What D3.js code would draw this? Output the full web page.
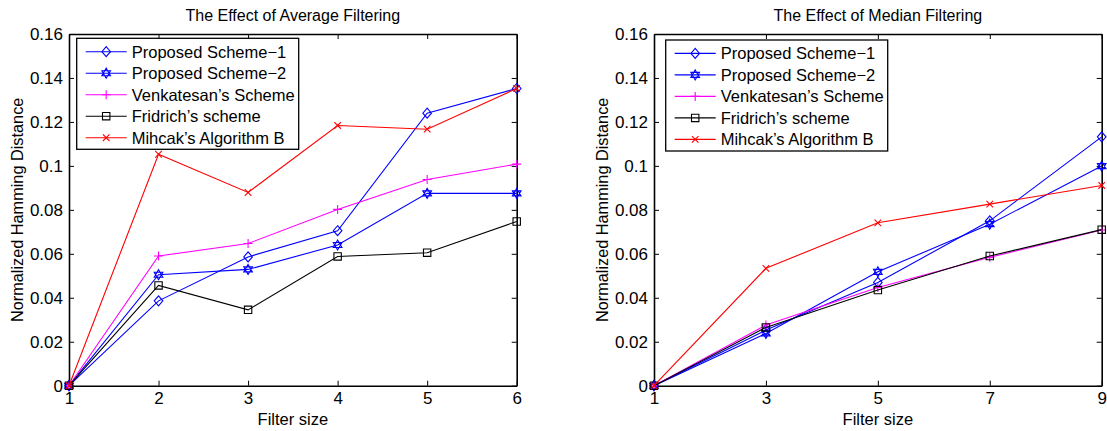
<!DOCTYPE html>
<html>
<head>
<meta charset="utf-8">
<script src="https://cdn.jsdelivr.net/npm/d3@7"></script>
<style>
  body { margin: 0; background: #fff; }
  text { font-family: "Liberation Sans", Arial, Helvetica, sans-serif; fill: #000; }
</style>
</head>
<body>
<div id="chart"></div>
<script>
// ---- data ----
var seriesNames = ["Proposed Scheme\u22121", "Proposed Scheme\u22122", "Venkatesan\u2019s Scheme", "Fridrich\u2019s scheme", "Mihcak\u2019s Algorithm B"];
var seriesColors = ["#0000ff", "#0000ff", "#ff00ff", "#000000", "#ff0000"];
var seriesMarkers = ["diamond", "hexagram", "plus", "square", "cross"];

var avgSizes = [1, 2, 3, 4, 5, 6];
var avgScheme1 = [0, 0.0386, 0.0586, 0.0705, 0.1240, 0.1352];
var avgScheme2 = [0, 0.0505, 0.0529, 0.0640, 0.0875, 0.0875];
var avgVenkatesan = [0, 0.0590, 0.0647, 0.0802, 0.0938, 0.1008];
var avgFridrich = [0, 0.0456, 0.0345, 0.0588, 0.0605, 0.0747];
var avgMihcak = [0, 0.1053, 0.0879, 0.1184, 0.1167, 0.1352];

var medSizes = [1, 3, 5, 7, 9];
var medScheme1 = [0, 0.0253, 0.0470, 0.0750, 0.1132];
var medScheme2 = [0, 0.0238, 0.0518, 0.0735, 0.0999];
var medVenkatesan = [0, 0.0276, 0.0447, 0.0584, 0.0708];
var medFridrich = [0, 0.0265, 0.0435, 0.0590, 0.0710];
var medMihcak = [0, 0.0534, 0.0741, 0.0826, 0.0911];

var yTicks = [0, 0.02, 0.04, 0.06, 0.08, 0.1, 0.12, 0.14, 0.16];
var avgTicks = [1, 2, 3, 4, 5, 6];
var medTicks = [1, 3, 5, 7, 9];

var panels = [
  { title: "The Effect of Average Filtering", x: avgSizes, ticks: avgTicks,
    series: [avgScheme1, avgScheme2, avgVenkatesan, avgFridrich, avgMihcak],
    left: 69, right: 516.7, legendDx: 7.7, legendDy: 4.3, ylabelX: 23 },
  { title: "The Effect of Median Filtering", x: medSizes, ticks: medTicks,
    series: [medScheme1, medScheme2, medVenkatesan, medFridrich, medMihcak],
    left: 654, right: 1101.7, legendDx: 11.7, legendDy: 6, ylabelX: 608 }
];

var W = 1107, H = 431;
var plotTop = 34, plotBottom = 385.7;

// marker paths, MATLAB style (unfilled)
function markerPath(kind) {
  switch (kind) {
    case "diamond": return "M0,-5L4.3,0L0,5L-4.3,0Z";
    case "square": return "M-3.7,-3.7H3.7V3.7H-3.7Z";
    case "plus": return "M-4.5,0H4.5M0,-4.5V4.5";
    case "cross": return "M-3.3,-3.3L3.3,3.3M-3.3,3.3L3.3,-3.3";
    case "hexagram":
      var r = 5, p1 = [], p2 = [];
      for (var i = 0; i < 3; i++) {
        var a1 = -Math.PI / 2 + i * 2 * Math.PI / 3;
        var a2 = Math.PI / 2 + i * 2 * Math.PI / 3;
        p1.push([r * Math.cos(a1), r * Math.sin(a1)]);
        p2.push([r * Math.cos(a2), r * Math.sin(a2)]);
      }
      return "M" + p1.join("L") + "Z" + "M" + p2.join("L") + "Z";
  }
}

var svg = d3.select("#chart").append("svg")
  .attr("width", W).attr("height", H);

panels.forEach(function (p) {
  var x = d3.scaleLinear().domain([p.x[0], p.x[p.x.length - 1]]).range([p.left, p.right]);
  var y = d3.scaleLinear().domain([0, 0.16]).range([plotBottom, plotTop]);
  var g = svg.append("g");

  // title
  g.append("text")
    .attr("x", (p.left + p.right) / 2).attr("y", 21)
    .attr("text-anchor", "middle")
    .style("font-size", "16px")
    .text(p.title);

  // axes box with inward ticks on all sides
  var fmt = function (d) { return String(+d.toFixed(2)); };
  g.append("g").attr("transform", "translate(0," + plotBottom + ")")
    .call(d3.axisBottom(x).tickValues(p.ticks).tickSizeInner(-5).tickSizeOuter(0).tickPadding(6).tickFormat(d3.format("d")))
    .call(function (a) { a.selectAll("text").style("font-size", "17px").attr("fill", "#000"); });
  g.append("g").attr("transform", "translate(0," + plotTop + ")")
    .call(d3.axisTop(x).tickValues(p.ticks).tickSizeInner(-5).tickSizeOuter(0).tickFormat(""));
  g.append("g").attr("transform", "translate(" + p.left + ",0)")
    .call(d3.axisLeft(y).tickValues(yTicks).tickSizeInner(-5).tickSizeOuter(0).tickPadding(6).tickFormat(fmt))
    .call(function (a) { a.selectAll("text").style("font-size", "17px").attr("fill", "#000"); });
  g.append("g").attr("transform", "translate(" + p.right + ",0)")
    .call(d3.axisRight(y).tickValues(yTicks).tickSizeInner(-5).tickSizeOuter(0).tickFormat(""));
  g.selectAll(".domain").attr("stroke", "#000").attr("stroke-width", 1.6);
  g.selectAll(".tick line").attr("stroke", "#000").attr("stroke-width", 1);

  // axis labels
  g.append("text")
    .attr("x", (p.left + p.right) / 2).attr("y", 424.5)
    .attr("text-anchor", "middle")
    .style("font-size", "16.5px")
    .text("Filter size");
  g.append("text")
    .attr("transform", "translate(" + p.ylabelX + "," + ((plotTop + plotBottom) / 2) + ") rotate(-90)")
    .attr("text-anchor", "middle")
    .style("font-size", "16.3px")
    .text("Normalized Hamming Distance");

  // series
  var line = d3.line().x(function (d) { return x(d[0]); }).y(function (d) { return y(d[1]); });
  p.series.forEach(function (vals, si) {
    var pts = p.x.map(function (v, i) { return [v, vals[i]]; });
    g.append("path").datum(pts)
      .attr("d", line)
      .attr("fill", "none")
      .attr("stroke", seriesColors[si])
      .attr("stroke-width", 1.1);
    g.selectAll(".m" + si).data(pts).enter().append("path")
      .attr("class", "m" + si)
      .attr("transform", function (d) { return "translate(" + x(d[0]) + "," + y(d[1]) + ")"; })
      .attr("d", markerPath(seriesMarkers[si]))
      .attr("fill", "none")
      .attr("stroke", seriesColors[si])
      .attr("stroke-width", 1.1);
  });

  // legend
  var lx = p.left + p.legendDx, ly = plotTop + p.legendDy;
  var lg = g.append("g").attr("transform", "translate(" + lx + "," + ly + ")");
  lg.append("rect")
    .attr("width", 222).attr("height", 111)
    .attr("fill", "#fff").attr("stroke", "#000").attr("stroke-width", 1.3);
  var row = lg.selectAll(".row").data(seriesNames).enter().append("g")
    .attr("transform", function (d, i) { return "translate(0," + (13.4 + i * 21.5) + ")"; });
  row.append("line")
    .attr("x1", 9).attr("x2", 50)
    .attr("stroke", function (d, i) { return seriesColors[i]; })
    .attr("stroke-width", 1.1);
  row.append("path")
    .attr("transform", "translate(29.5,0)")
    .attr("d", function (d, i) { return markerPath(seriesMarkers[i]); })
    .attr("fill", "none")
    .attr("stroke", function (d, i) { return seriesColors[i]; })
    .attr("stroke-width", 1.1);
  row.append("text")
    .attr("x", 55).attr("dy", "0.36em")
    .style("font-size", "16.5px")
    .text(function (d) { return d; });
});
</script>
</body>
</html>
